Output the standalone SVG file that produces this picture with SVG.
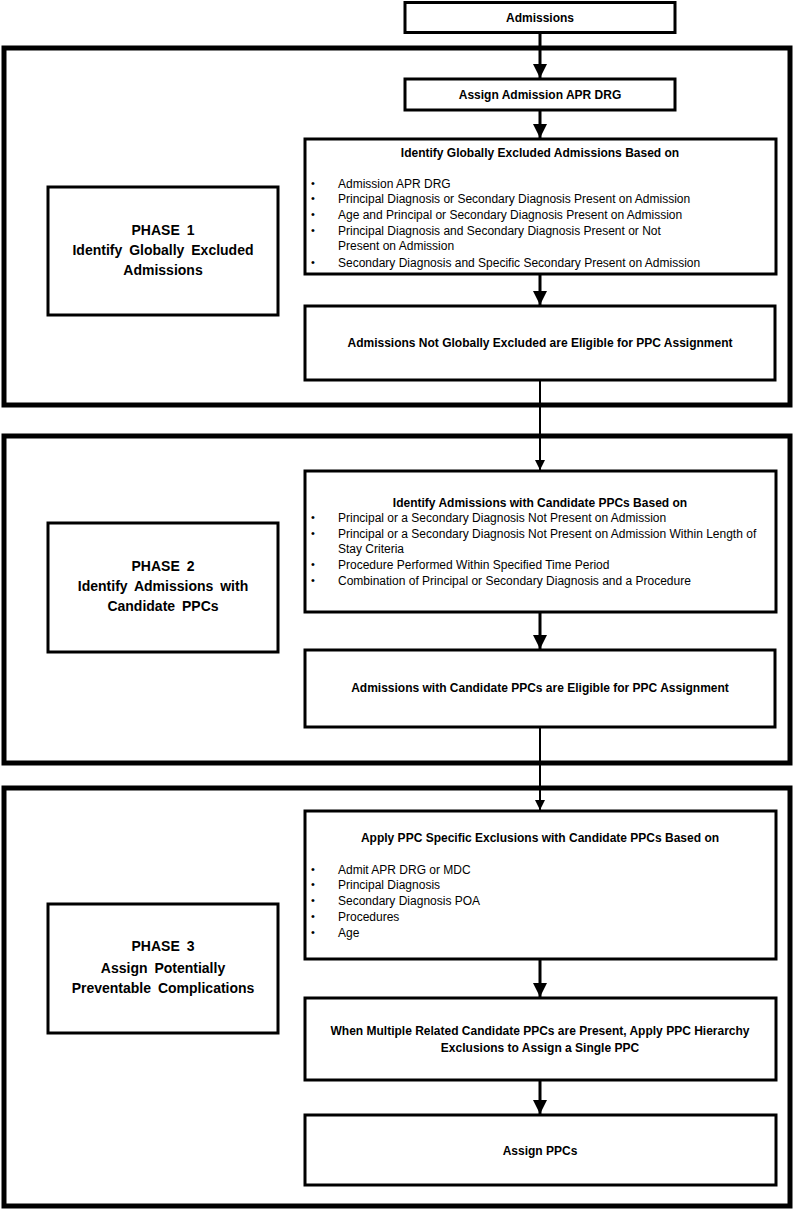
<svg xmlns="http://www.w3.org/2000/svg" width="796" height="1211" viewBox="0 0 796 1211">
<defs>
<style>
.outer{fill:none;stroke:#000;stroke-width:5}
.box{fill:#fff;stroke:#000;stroke-width:3}
.t{font-family:"Liberation Sans",Arial,sans-serif;fill:#000}
.b{font-weight:bold;font-size:12px}
.r{font-size:12px}
.ph{font-weight:bold;font-size:14px;word-spacing:3px}
.c{text-anchor:middle}
.bul{font-size:11px;text-anchor:middle}
.line{stroke:#000;stroke-width:3;fill:none}
.thin{stroke:#000;stroke-width:2;fill:none}
</style>
<marker id="ah" viewBox="0 0 10 10" refX="10" refY="5" markerUnits="userSpaceOnUse" markerWidth="14" markerHeight="14" orient="auto"><path d="M0,0 L10,5 L0,10 Z" fill="#000"/></marker>
<marker id="ahs" viewBox="0 0 10 10" refX="10" refY="5" markerUnits="userSpaceOnUse" markerWidth="13" markerHeight="10" orient="auto"><path d="M0,0 L10,5 L0,10 Z" fill="#000"/></marker>
</defs>
<rect width="796" height="1211" fill="#fff"/>

<g id="phase1-frame"><rect class="outer" x="4" y="48" width="786" height="357"/></g>
<g id="phase2-frame"><rect class="outer" x="4" y="436" width="786" height="327"/></g>
<g id="phase3-frame"><rect class="outer" x="4" y="788" width="786" height="418"/></g>

<g id="connectors">
<line class="line" x1="540" y1="33" x2="540" y2="78" marker-end="url(#ah)"/>
<line class="line" x1="540" y1="110" x2="540" y2="138" marker-end="url(#ah)"/>
<line class="line" x1="540" y1="274" x2="540" y2="305" marker-end="url(#ah)"/>
<line class="thin" x1="540" y1="380" x2="540" y2="470" marker-end="url(#ahs)"/>
<line class="line" x1="540" y1="612" x2="540" y2="649" marker-end="url(#ah)"/>
<line class="thin" x1="540" y1="727" x2="540" y2="810" marker-end="url(#ahs)"/>
<line class="line" x1="540" y1="959" x2="540" y2="997" marker-end="url(#ah)"/>
<line class="line" x1="540" y1="1080" x2="540" y2="1114" marker-end="url(#ah)"/>
</g>

<g id="admissions">
<rect class="box" x="405" y="2.5" width="270" height="30"/>
<text class="t b c" x="540" y="21.5">Admissions</text>
</g>

<g id="assign-drg">
<rect class="box" x="405" y="79" width="270" height="31"/>
<text class="t b c" x="540" y="98.5">Assign Admission APR DRG</text>
</g>

<g id="global-exclusion">
<rect class="box" x="305" y="139" width="471" height="135"/>
<text class="t b c" x="540" y="156.5">Identify Globally Excluded Admissions Based on</text>
<text class="t bul" x="313" y="187">•</text>
<text class="t r" x="338" y="187.5">Admission APR DRG</text>
<text class="t bul" x="313" y="202">•</text>
<text class="t r" x="338" y="202.5">Principal Diagnosis or Secondary Diagnosis Present on Admission</text>
<text class="t bul" x="313" y="218">•</text>
<text class="t r" x="338" y="218.5">Age and Principal or Secondary Diagnosis Present on Admission</text>
<text class="t bul" x="313" y="234">•</text>
<text class="t r" x="338" y="234.5">Principal Diagnosis and Secondary Diagnosis Present or Not</text>
<text class="t r" x="338" y="249.5">Present on Admission</text>
<text class="t bul" x="313" y="266">•</text>
<text class="t r" x="338" y="266.5">Secondary Diagnosis and Specific Secondary Present on Admission</text>
</g>

<g id="not-excluded">
<rect class="box" x="305" y="306" width="470" height="74"/>
<text class="t b c" x="540" y="347">Admissions Not Globally Excluded are Eligible for PPC Assignment</text>
</g>

<g id="phase1-label">
<rect class="box" x="48" y="187" width="230" height="128"/>
<text class="t ph c" x="163" y="235">PHASE 1</text>
<text class="t ph c" x="163" y="255">Identify Globally Excluded</text>
<text class="t ph c" x="163" y="275">Admissions</text>
</g>

<g id="candidate-ppcs">
<rect class="box" x="305" y="471" width="471" height="141"/>
<text class="t b c" x="540" y="506.5">Identify Admissions with Candidate PPCs Based on</text>
<text class="t bul" x="313" y="521">•</text>
<text class="t r" x="338" y="521.5">Principal or a Secondary Diagnosis Not Present on Admission</text>
<text class="t bul" x="313" y="537">•</text>
<text class="t r" x="338" y="537.5">Principal or a Secondary Diagnosis Not Present on Admission Within Length of</text>
<text class="t r" x="338" y="553">Stay Criteria</text>
<text class="t bul" x="313" y="568">•</text>
<text class="t r" x="338" y="568.5">Procedure Performed Within Specified Time Period</text>
<text class="t bul" x="313" y="584">•</text>
<text class="t r" x="338" y="584.5">Combination of Principal or Secondary Diagnosis and a Procedure</text>
</g>

<g id="candidate-eligible">
<rect class="box" x="305" y="650" width="470" height="77"/>
<text class="t b c" x="540" y="692">Admissions with Candidate PPCs are Eligible for PPC Assignment</text>
</g>

<g id="phase2-label">
<rect class="box" x="48" y="523" width="230" height="129"/>
<text class="t ph c" x="163" y="571">PHASE 2</text>
<text class="t ph c" x="163" y="591">Identify Admissions with</text>
<text class="t ph c" x="163" y="611">Candidate PPCs</text>
</g>

<g id="specific-exclusions">
<rect class="box" x="305" y="811" width="471" height="148"/>
<text class="t b c" x="540" y="841.5">Apply PPC Specific Exclusions with Candidate PPCs Based on</text>
<text class="t bul" x="313" y="873">•</text>
<text class="t r" x="338" y="873.5">Admit APR DRG or MDC</text>
<text class="t bul" x="313" y="888">•</text>
<text class="t r" x="338" y="888.5">Principal Diagnosis</text>
<text class="t bul" x="313" y="904">•</text>
<text class="t r" x="338" y="904.5">Secondary Diagnosis POA</text>
<text class="t bul" x="313" y="920">•</text>
<text class="t r" x="338" y="920.5">Procedures</text>
<text class="t bul" x="313" y="936">•</text>
<text class="t r" x="338" y="936.5">Age</text>
</g>

<g id="hierarchy">
<rect class="box" x="305" y="998" width="471" height="82"/>
<text class="t b c" x="540" y="1034.5">When Multiple Related Candidate PPCs are Present, Apply PPC Hierarchy</text>
<text class="t b c" x="540" y="1051.5">Exclusions to Assign a Single PPC</text>
</g>

<g id="assign-ppcs">
<rect class="box" x="305" y="1115" width="471" height="70"/>
<text class="t b c" x="540" y="1155">Assign PPCs</text>
</g>

<g id="phase3-label">
<rect class="box" x="48" y="904" width="230" height="129"/>
<text class="t ph c" x="163" y="951">PHASE 3</text>
<text class="t ph c" x="163" y="973">Assign Potentially</text>
<text class="t ph c" x="163" y="993">Preventable Complications</text>
</g>
</svg>
